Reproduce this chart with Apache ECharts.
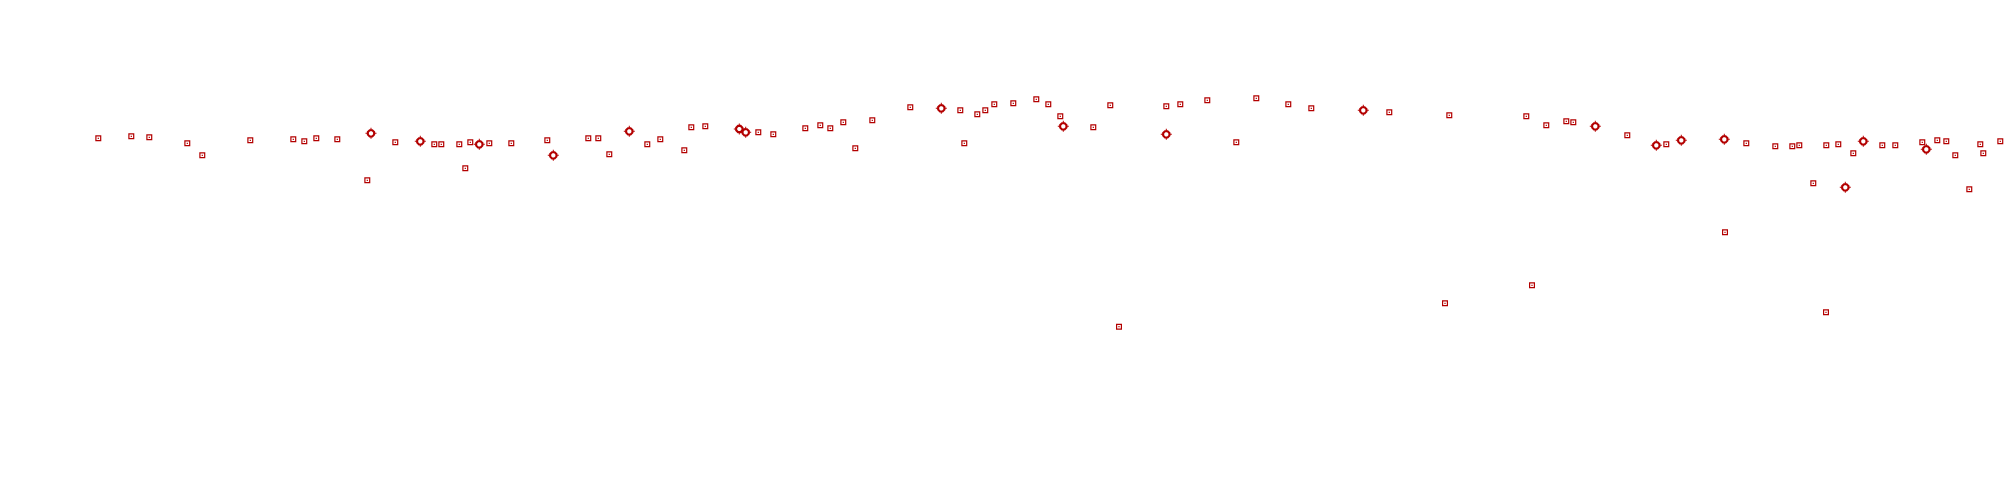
<!DOCTYPE html>
<html>
<head>
<meta charset="utf-8">
<script src="https://cdn.jsdelivr.net/npm/echarts@6/dist/echarts.min.js"></script>
<style>html,body{margin:0;padding:0;background:#fff;}#c{width:2005px;height:500px;}</style>
</head>
<body>
<div id="c"></div>
<script>
// [x, value] pairs
const squarePoints = [
 [98.3,361.7],[131.3,363.7],[149.3,362.7],[187.3,356.7],[202.3,344.7],[250.3,359.7],[293.3,360.7],[304.3,358.7],
 [316.3,361.7],[337.3,360.7],[367.3,319.7],[395.3,357.7],[434.3,355.7],[441.3,355.7],[459.3,355.7],[465.3,331.7],
 [470.3,357.7],[489.3,356.7],[511.3,356.7],[547.3,359.7],[588.3,361.7],[598.3,361.7],[609.3,345.7],[647.3,355.7],
 [660.3,360.7],[684.3,349.7],[691.3,372.7],[705.3,373.7],[758.3,367.7],[773.3,365.7],[805.3,371.7],[820.3,374.7],
 [830.3,371.7],[843.3,377.7],[855.3,351.7],[872.3,379.7],[910.3,392.7],[960.3,389.7],[964.3,356.7],[977.3,385.7],
 [985.3,389.7],[994.3,395.7],[1013.3,396.7],[1036.3,400.7],[1048.3,395.7],[1060.3,383.7],[1093.3,372.7],[1110.3,394.7],
 [1119.0,173.3],[1166.3,393.7],[1180.3,395.7],[1207.3,399.7],[1236.3,357.7],[1256.3,401.7],[1288.3,395.7],[1311.3,391.7],
 [1389.3,387.7],[1445.0,196.7],[1449.3,384.7],[1526.3,383.7],[1532.0,214.7],[1546.3,374.7],[1566.3,378.7],[1573.3,377.7],
 [1627.3,364.7],[1666.3,355.7],[1725.0,267.7],[1746.3,356.7],[1775.3,353.7],[1792.3,353.7],[1799.3,354.7],[1813.3,316.7],
 [1826.3,354.7],[1826.0,187.7],[1838.3,355.7],[1853.3,346.7],[1882.3,354.7],[1895.3,354.7],[1922.3,357.7],[1937.3,359.7],
 [1946.3,358.7],[1955.3,344.7],[1969.3,310.7],[1980.3,355.7],[1983.3,346.7],[2000.3,358.7]
];
const diamondPoints = [
 [371.0,366.7],[420.3,358.7],[479.3,355.7],[553.3,344.7],[629.3,368.7],[739.3,371.0],[745.7,367.7],[941.3,391.7],
 [1063.3,373.7],[1166.3,365.7],[1363.3,389.7],[1595.3,373.7],[1656.3,354.7],[1681.3,359.7],[1724.3,360.7],[1845.3,312.7],
 [1863.3,358.7],[1926.3,350.7]
];

const RED = '#b30000';
const squareSymbol = 'path://M0,0L10,0L10,10L0,10Z M2,2L2,8L8,8L8,2Z M4,4L6,4L6,6L4,6Z';
const diamondSymbol = 'path://M19.31,14.44L14.44,19.31L7.56,19.31L2.69,14.44L2.69,7.56L7.56,2.69L14.44,2.69L19.31,7.56Z ' +
  'M15.16,9.28L12.72,6.84L9.28,6.84L6.84,9.28L6.84,12.72L9.28,15.16L12.72,15.16L15.16,12.72Z ' +
  'M10,0L12,0L12,3.2L10,3.2Z M10,18.8L12,18.8L12,22L10,22Z M0,10L3.2,10L3.2,12L0,12Z M18.8,10L22,10L22,12L18.8,12Z';

const chart = echarts.init(document.getElementById('c'), null, {renderer: 'canvas'});
chart.setOption({
  animation: false,
  backgroundColor: '#ffffff',
  grid: {left: 0, right: 0, top: 0, bottom: 0},
  xAxis: {type: 'value', min: 0, max: 2005, show: false},
  yAxis: {type: 'value', min: 0, max: 500, show: false},
  series: [
    {type: 'scatter', data: squarePoints, symbol: squareSymbol, symbolSize: 6,
     itemStyle: {color: RED, opacity: 1}},
    {type: 'scatter', data: diamondPoints, symbol: diamondSymbol, symbolSize: 11,
     itemStyle: {color: RED, opacity: 1}}
  ]
});
</script>
</body>
</html>
